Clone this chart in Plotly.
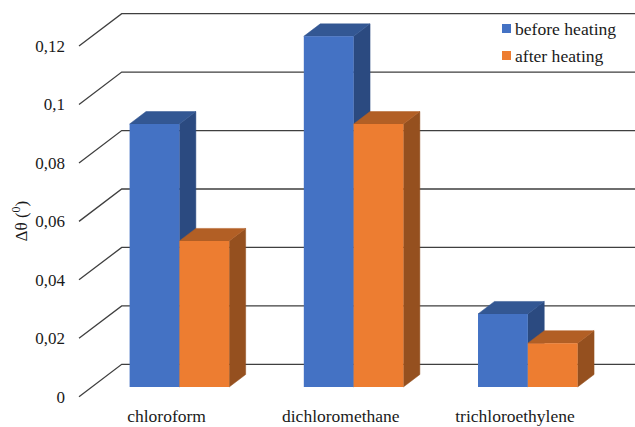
import plotly.graph_objects as go

# Chart data
categories = ["chloroform", "dichloromethane", "trichloroethylene"]
series_names = ["before heating", "after heating"]
before_heating = [0.09, 0.12, 0.025]
after_heating = [0.05, 0.09, 0.015]
y_ticks = [0, 0.02, 0.04, 0.06, 0.08, 0.1, 0.12]
y_tick_labels = ["0", "0,02", "0,04", "0,06", "0,08", "0,1", "0,12"]

# Canvas and plot area, in pixels
W, H = 635, 427
LEFT, BOTTOM = 66, 403
ZERO_PX = 396.7          # height of the front floor edge
X0_PX = 166.6            # first category on the front plane
PX_PER_CAT = 174.2
PX_PER_UNIT = 2922.0

x_range = [(LEFT - X0_PX) / PX_PER_CAT, (W - X0_PX) / PX_PER_CAT]
y_range = [(ZERO_PX - BOTTOM) / PX_PER_UNIT, ZERO_PX / PX_PER_UNIT]

# Oblique projection: full chart depth expressed in axis units
DEPTH_X = 42.7 / PX_PER_CAT
DEPTH_Y = 32.4 / PX_PER_UNIT
BAR_NEAR, BAR_FAR = 0.30, 0.685
BAR_W = 49.8 / PX_PER_CAT
WALL_X = (79 - X0_PX) / PX_PER_CAT

def project(x, v, depth):
    return x + depth * DEPTH_X, v + depth * DEPTH_Y

def polygon(points, color, z):
    xs = [p[0] for p in points]
    ys = [p[1] for p in points]
    return go.Scatter(x=xs + xs[:1], y=ys + ys[:1], mode="lines", fill="toself",
                      fillcolor=color, line=dict(color=color, width=0.5),
                      hoverinfo="skip", showlegend=False, zorder=z)

fig = go.Figure()

# Gridlines: a diagonal on the side wall, then across the back wall
grid_x, grid_y = [], []
for v in y_ticks:
    a = project(WALL_X, v, 0)
    b = project(WALL_X, v, 1)
    grid_x += [a[0], b[0], x_range[1], None]
    grid_y += [a[1], b[1], b[1], None]
fig.add_trace(go.Scatter(x=grid_x, y=grid_y, mode="lines",
                         line=dict(color="#3f3f3f", width=1.3),
                         hoverinfo="skip", showlegend=False, zorder=0))

series = [
    (series_names[0], before_heating, -0.5, "#4472C4", "#335793", "#2B4A80"),
    (series_names[1], after_heating, 0.5, "#ED7D31", "#B25F25", "#95501F"),
]

for k, (name, values, shift, front, top, side) in enumerate(series):
    z = 1 + 2 * k
    for i, v in enumerate(values):
        xl = i + shift * BAR_W - BAR_W / 2
        xr = xl + BAR_W
        # right side face
        fig.add_trace(polygon([project(xr, 0, BAR_NEAR), project(xr, 0, BAR_FAR),
                               project(xr, v, BAR_FAR), project(xr, v, BAR_NEAR)], side, z))
        # top face
        fig.add_trace(polygon([project(xl, v, BAR_NEAR), project(xl, v, BAR_FAR),
                               project(xr, v, BAR_FAR), project(xr, v, BAR_NEAR)], top, z))
    # front faces
    fig.add_trace(go.Bar(
        x=[project(i + shift * BAR_W, 0, BAR_NEAR)[0] for i in range(len(values))],
        y=values, base=BAR_NEAR * DEPTH_Y, width=BAR_W, name=name,
        marker=dict(color=front, line=dict(width=0)), showlegend=False,
        hovertemplate="%{y}<extra>" + name + "</extra>", zorder=z + 1))

# Key in the upper right corner
key_font = dict(family="Liberation Serif", size=17.6, color="#1a1a1a")
for (name, color, cy) in [(series_names[0], "#4472C4", 28.5), (series_names[1], "#ED7D31", 55.5)]:
    fig.add_shape(type="rect", xref="paper", yref="paper", line_width=0, fillcolor=color,
                  x0=(502 - LEFT) / (W - LEFT), x1=(511 - LEFT) / (W - LEFT),
                  y0=1 - (cy + 4.5) / BOTTOM, y1=1 - (cy - 4.5) / BOTTOM)
    fig.add_annotation(text=name, xref="paper", yref="paper", showarrow=False,
                       x=(515 - LEFT) / (W - LEFT), y=1 - cy / BOTTOM,
                       xanchor="left", yanchor="middle", font=key_font, xshift=-2)

# Value axis title
fig.add_annotation(text="Δθ (<sup>0</sup>)", xref="paper", yref="y", showarrow=False,
                   x=(20 - LEFT) / (W - LEFT), y=0.06, textangle=-90,
                   xanchor="center", yanchor="middle",
                   font=dict(family="Liberation Serif", size=17, color="#1a1a1a"))

fig.update_layout(
    width=W, height=H, autosize=False,
    margin=dict(l=LEFT, r=0, t=0, b=H - BOTTOM, pad=0),
    paper_bgcolor="white", plot_bgcolor="white",
    barmode="overlay", showlegend=False,
    font=dict(family="Liberation Serif", color="#1a1a1a"),
)
fig.update_xaxes(range=x_range, tickmode="array", tickvals=list(range(len(categories))),
                 ticktext=categories, showgrid=False, zeroline=False, showline=False,
                 ticks="", tickfont=dict(family="Liberation Serif", size=17.5, color="#1a1a1a"))
fig.update_yaxes(range=y_range, tickmode="array", tickvals=y_ticks, ticktext=y_tick_labels,
                 showgrid=False, zeroline=False, showline=False, ticks="",
                 tickfont=dict(family="Liberation Serif", size=17, color="#1a1a1a"))

fig.write_html("out.html")
